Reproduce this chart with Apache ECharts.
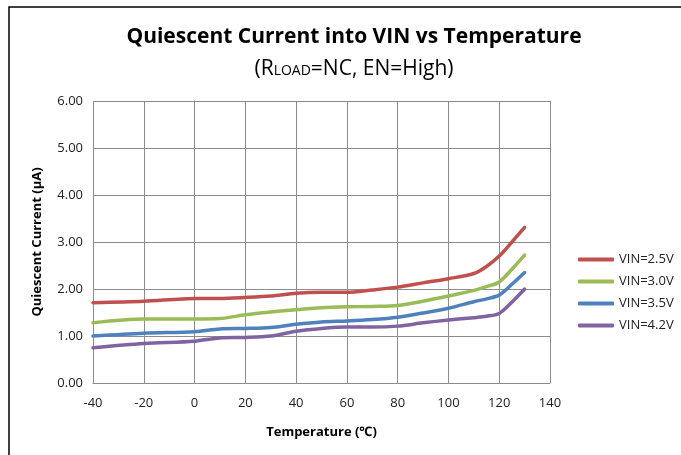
<!DOCTYPE html>
<html>
<head>
<meta charset="utf-8">
<script src="https://cdn.jsdelivr.net/npm/echarts@6/dist/echarts.min.js"></script>
<style>
html,body{margin:0;padding:0;background:#fff;}
#chart{width:681px;height:455px;}
</style>
</head>
<body>
<div id="chart"></div>
<script>
var temps = [-40,-20,0,10,20,30,40,50,60,70,80,90,100,110,115,120,125,130];
var vin25 = [1.71,1.74,1.80,1.80,1.82,1.85,1.91,1.93,1.93,1.98,2.04,2.13,2.22,2.33,2.48,2.70,3.00,3.31];
var vin30 = [1.28,1.36,1.36,1.37,1.45,1.51,1.56,1.60,1.62,1.63,1.65,1.74,1.85,1.97,2.05,2.15,2.42,2.72];
var vin35 = [1.00,1.06,1.09,1.15,1.16,1.18,1.25,1.30,1.32,1.35,1.40,1.49,1.59,1.73,1.79,1.87,2.10,2.35];
var vin42 = [0.75,0.84,0.89,0.96,0.97,1.00,1.10,1.16,1.19,1.19,1.21,1.28,1.34,1.39,1.42,1.48,1.72,2.00];
var seriesNames = ['VIN=2.5V','VIN=3.0V','VIN=3.5V','VIN=4.2V'];
var seriesColors = ['#C0504D','#9BBB59','#4F81BD','#8064A2'];
var xTicks = [-40,-20,0,20,40,60,80,100,120,140];
var yTicks = [0,1,2,3,4,5,6];

var allSeries = [vin25, vin30, vin35, vin42];
function pairs(vals){ return temps.map(function(t,i){ return [t, vals[i]]; }); }

var FONT = '"Open Sans", "Noto Sans", sans-serif';
var chart = echarts.init(document.getElementById('chart'), null, {renderer:'canvas'});
var option = {
  backgroundColor: '#fff',
  animation: false,
  textStyle: {fontFamily: FONT},
  title: [{
    text: 'Quiescent Current into VIN vs Temperature',
    left: 349, textAlign: 'center',
    top: 22,
    textStyle: {fontFamily: FONT, fontSize: 21, fontWeight: 'bold', color: '#000'}
  }, {
    text: '(R{s|LOAD}=NC, EN=High)',
    left: 349, textAlign: 'center',
    top: 54,
    textStyle: {fontFamily: FONT, fontSize: 21, fontWeight: 'normal', color: '#000',
      rich: {s: {fontFamily: FONT, fontSize: 14, color: '#000', padding:[4,0,0,0]}}}
  }],
  graphic: [{
    type: 'rect', shape: {x: 9, y: 7, width: 800, height: 600},
    style: {fill: 'none', stroke: '#000', lineWidth: 1.5}, silent: true
  }],
  legend: {
    orient: 'vertical',
    left: 573,
    top: 248,
    itemWidth: 36,
    itemHeight: 4,
    itemGap: 9,
    icon: 'roundRect',
    textStyle: {fontFamily: FONT, fontSize: 13, color: '#222', padding:[0,0,0,0]},
    data: seriesNames
  },
  grid: {left: 93, right: 131, top: 101, bottom: 72, containLabel: false},
  xAxis: {
    type: 'value', min: -40, max: 140, interval: 20,
    name: 'Temperature (℃)', nameLocation: 'middle', nameGap: 43,
    nameTextStyle: {fontFamily: FONT, fontSize: 13, fontWeight: 'bold', color: '#000'},
    axisLine: {show: true, lineStyle: {color: '#8c8c8c', width: 1}},
    axisTick: {show: false},
    axisLabel: {fontFamily: FONT, fontSize: 13, color: '#222', margin: 14},
    splitLine: {show: true, lineStyle: {color: '#8c8c8c', width: 1}}
  },
  yAxis: {
    type: 'value', min: 0, max: 6, interval: 1,
    name: 'Quiescent Current (μA)', nameLocation: 'middle', nameGap: 49,
    nameTextStyle: {fontFamily: FONT, fontSize: 13, fontWeight: 'bold', color: '#000'},
    axisLine: {show: true, lineStyle: {color: '#8c8c8c', width: 1}},
    axisTick: {show: false},
    axisLabel: {fontFamily: FONT, fontSize: 13, color: '#222', margin: 10,
      formatter: function(v){ return v.toFixed(2); }},
    splitLine: {show: true, lineStyle: {color: '#8c8c8c', width: 1}}
  },
  series: seriesNames.map(function(n, i){
    return {
      name: n, type: 'line', data: pairs(allSeries[i]),
      showSymbol: false, symbol: 'none', smooth: 0.3,
      itemStyle: {color: seriesColors[i]},
      lineStyle: {color: seriesColors[i], width: 3.5, cap: 'round', join: 'round'}
    };
  })
};
chart.setOption(option);
</script>
</body>
</html>
